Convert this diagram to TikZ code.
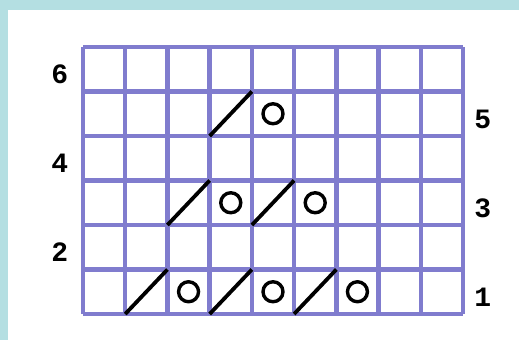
\documentclass[tikz,border=0pt]{standalone}
\usepackage{fontspec}
\setmonofont{Liberation Mono}
\usepackage{tikz}
\usetikzlibrary{positioning}

\definecolor{frameteal}{RGB}{180,223,226}
\definecolor{gridpurple}{RGB}{128,124,206}

\begin{document}
\begin{tikzpicture}[x=1pt,y=1pt,
   gridline/.style={gridpurple,line width=4.4pt},
   yarnover/.style={circle,draw=black,line width=3.4pt,minimum size=20pt,inner sep=0pt},
   knittog/.style={black,line width=3.8pt},
   rowlabel/.style={font=\ttfamily\bfseries\fontsize{28}{28}\selectfont,inner sep=0pt}]
  \useasboundingbox (0,0) rectangle (519,340);
  \fill[frameteal] (0,0) rectangle (519,340);
  \fill[white] (8,0) rectangle (519,330);
  \begin{scope}[shift={(83,26)},x=42.22pt,y=44.5pt]
    % chart grid
    \foreach \i in {0,...,9}
      \draw[gridline] (\i,0) -- (\i,6);
    \foreach \j in {0,...,6}
      \draw[gridline] (0,\j) -- (9,\j);
    % decreases and yarn overs
    \foreach \c/\r in {2/1,4/1,6/1,3/3,5/3,4/5}
      \draw[knittog] (\c-1,\r-1) -- (\c,\r);
    \foreach \c/\r in {3/1,5/1,7/1,4/3,6/3,5/5}
      \node[yarnover] (yo-\c-\r) at (\c-0.5,\r-0.5) {};
    % row numbers
    \foreach \r in {1,3,5}
      \node[rowlabel] (row\r) at (9.47,\r-0.62) {\r};
    \foreach \r in {2,4,6}
      \node[rowlabel] (row\r) at (-0.55,\r-0.62) {\r};
  \end{scope}
\end{tikzpicture}
\end{document}
